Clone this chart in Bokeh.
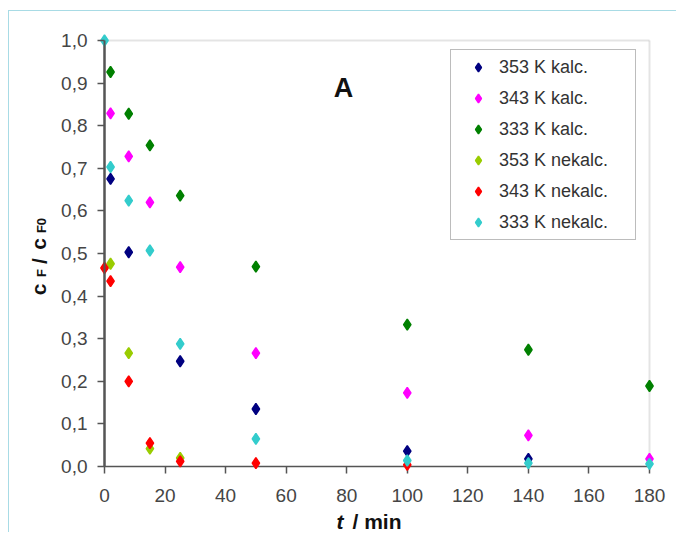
import math
from bokeh.plotting import figure
from bokeh.models import (Range1d, LinearAxis, FixedTicker, CustomJSTickFormatter,
                          Legend, LegendItem, Label, BoxAnnotation)
from bokeh.embed import file_html
from bokeh.resources import INLINE

# ---------------- data ----------------
t_353_kalc = [2, 8, 25, 50, 100, 140]
c_353_kalc = [0.675, 0.503, 0.247, 0.135, 0.036, 0.018]

t_343_kalc = [2, 8, 15, 25, 50, 100, 140, 180]
c_343_kalc = [0.829, 0.728, 0.620, 0.468, 0.266, 0.173, 0.073, 0.018]

t_333_kalc = [2, 8, 15, 25, 50, 100, 140, 180]
c_333_kalc = [0.926, 0.828, 0.754, 0.636, 0.469, 0.333, 0.274, 0.189]

t_353_nekalc = [2, 8, 15, 25]
c_353_nekalc = [0.476, 0.266, 0.042, 0.020]

t_343_nekalc = [0, 2, 8, 15, 25, 50, 100]
c_343_nekalc = [0.466, 0.435, 0.200, 0.055, 0.012, 0.008, 0.004]

t_333_nekalc = [0, 2, 8, 15, 25, 50, 100, 140, 180]
c_333_nekalc = [1.000, 0.703, 0.624, 0.507, 0.288, 0.065, 0.014, 0.008, 0.006]

series = [
    ("353 K kalc.", t_353_kalc, c_353_kalc, "#000080"),
    ("343 K kalc.", t_343_kalc, c_343_kalc, "#ff00ff"),
    ("333 K kalc.", t_333_kalc, c_333_kalc, "#008000"),
    ("353 K nekalc.", t_353_nekalc, c_353_nekalc, "#99cc00"),
    ("343 K nekalc.", t_343_nekalc, c_343_nekalc, "#ff0000"),
    ("333 K nekalc.", t_333_nekalc, c_333_nekalc, "#33cccc"),
]

x_ticks = [0, 20, 40, 60, 80, 100, 120, 140, 160, 180]
y_ticks = [0.0, 0.1, 0.2, 0.3, 0.4, 0.5, 0.6, 0.7, 0.8, 0.9, 1.0]
X_MAX = 180
Y_MAX = 1.0

# ---------------- layout helpers (page pixels -> data) ----------------
FONT = "Liberation Sans"
XS = 545 / 180.0   # px per minute
YS = 426.0         # px per unit
CANVAS_L, CANVAS_T, CANVAS_R, CANVAS_B = 9, 11, 677, 533


def dx(px):
    return (px - 104) / XS


def dy(py):
    return (466 - py) / YS


p = figure(width=CANVAS_R - CANVAS_L, height=CANVAS_B - CANVAS_T,
           output_backend="svg", toolbar_location=None,
           x_range=Range1d(dx(CANVAS_L), dx(CANVAS_R)),
           y_range=Range1d(dy(CANVAS_B), dy(CANVAS_T)),
           x_axis_location=None, y_axis_location=None,
           min_border_left=0, min_border_top=0, min_border_right=0, min_border_bottom=0,
           styles={"margin-left": "8px", "margin-top": "10px",
                   "border-left": "1px solid #a8dbe5", "border-top": "1px solid #a8dbe5"})
p.outline_line_color = None
p.xgrid.visible = False
p.ygrid.visible = False
p.background_fill_color = "white"
p.border_fill_color = "white"

# plot box: top / right grey lines
top_line = BoxAnnotation(left=0, right=X_MAX, bottom=Y_MAX, top=Y_MAX, fill_alpha=0,
                         line_color="#a6a6a6", line_width=2, level="underlay")
right_line = BoxAnnotation(left=X_MAX, right=X_MAX, bottom=0, top=Y_MAX, fill_alpha=0,
                           line_color="#a6a6a6", line_width=2, level="underlay")
p.add_layout(top_line)
p.add_layout(right_line)

# left axis line, drawn before (beneath) the markers
p.segment(x0=[0], y0=[0], x1=[0], y1=[Y_MAX], line_color="#555555", line_width=2)

fmt = CustomJSTickFormatter(code="return tick.toFixed(1).replace('.', ',');")
yaxis = LinearAxis(ticker=FixedTicker(ticks=y_ticks), formatter=fmt, fixed_location=0,
                   bounds=(0, Y_MAX))
xaxis = LinearAxis(ticker=FixedTicker(ticks=x_ticks), fixed_location=0,
                   bounds=(0, X_MAX), level="underlay")
for ax in (xaxis, yaxis):
    ax.axis_line_color = "#555555"
    ax.axis_line_width = 1.5
    ax.major_tick_line_color = "#555555"
    ax.major_tick_line_width = 1.5
    ax.major_tick_out = 7
    ax.major_tick_in = 0
    ax.minor_tick_out = 0
    ax.minor_tick_in = 0
    ax.major_label_text_font = FONT
    ax.major_label_text_font_size = "19px"
    ax.major_label_text_color = "#454545"
yaxis.axis_line_width = 2
yaxis.major_label_standoff = 10
xaxis.major_label_standoff = 15
p.add_layout(yaxis, "left")
p.add_layout(xaxis, "below")

items = []
for name, t, c, col in series:
    r = p.scatter(t, c, marker="diamond", size=11,
                  fill_color=col, line_color=col, line_width=1.5)
    items.append(LegendItem(label=name, renderers=[r]))

# legend box: page x 450..634, top 51
legend = Legend(items=items, location=(450 - CANVAS_L, CANVAS_B - 240), padding=6, spacing=9,
                label_height=22, glyph_height=22, glyph_width=42, label_standoff=0,
                label_width=130, label_text_font=FONT, label_text_font_size="18px",
                label_text_color="#333333", border_line_color="#7a7a7a",
                border_line_width=1.5, background_fill_color="white", background_fill_alpha=1)
p.add_layout(legend)

# panel letter
p.add_layout(Label(x=dx(343), y=dy(87), text="A", text_font=FONT, text_font_size="27px",
                   text_font_style="bold", text_align="center", text_baseline="middle",
                   text_color="#111111"))

# x-axis title: t / min
p.add_layout(Label(x=dx(336), y=dy(521), text="t", text_font=FONT, text_font_size="21px",
                   text_font_style="bold italic", text_align="left", text_baseline="alphabetic",
                   text_color="#111111"))
p.add_layout(Label(x=dx(352), y=dy(521), text="/ min", text_font=FONT, text_font_size="21px",
                   text_font_style="bold", text_align="left", text_baseline="alphabetic",
                   text_color="#111111"))

# y-axis title: cF / cF0 (rotated)
for txt, bx, cy, size in [("c", 38, 289, "21px"), ("F", 41, 272.5, "13px"),
                          ("/", 39, 260.5, "21px"), ("c", 38, 243.5, "21px"),
                          ("F0", 41, 225, "13px")]:
    p.add_layout(Label(x=dx(bx), y=dy(cy), text=txt, text_font=FONT, text_font_size=size,
                       text_font_style="bold", text_align="center", text_baseline="alphabetic",
                       angle=math.pi / 2, text_color="#111111"))

open("out.html", "w").write(file_html(p, INLINE))
